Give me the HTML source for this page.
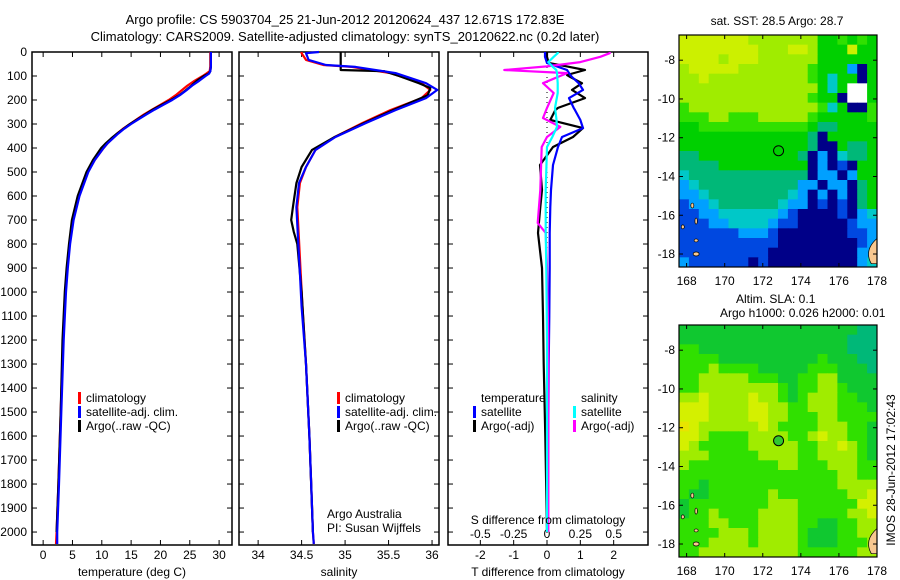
<!DOCTYPE html>
<html><head><meta charset="utf-8"><style>
body{margin:0;background:#fff}
svg{display:block;font-family:"Liberation Sans",sans-serif}
</style></head><body>
<svg id="c" width="900" height="580" viewBox="0 0 900 580">
<text x="345" y="24" font-size="13" text-anchor="middle">Argo profile: CS 5903704_25 21-Jun-2012 20120624_437 12.671S 172.83E</text>
<text x="345" y="41" font-size="13" text-anchor="middle">Climatology: CARS2009. Satellite-adjusted climatology: synTS_20120622.nc (0.2d later)</text>
</svg>
<script>
// ---- data ----
const tDepth=[0,20,40,60,80,90,100,120,140,160,180,200,220,240,260,280,300,320,340,360,380,400,450,500,600,700,800,900,1000,1200,1500,1800,2000,2050];
const tClim=[28.5,28.5,28.5,28.5,28.4,27.8,27.2,25.8,24.6,23.6,22.6,21.4,20.0,18.6,17.2,16.0,14.8,13.6,12.6,11.8,11.0,10.3,8.8,7.6,6.1,5.1,4.5,4.1,3.8,3.4,3.0,2.6,2.3,2.2];
const tSat=[28.6,28.6,28.6,28.6,28.5,28.3,27.7,26.6,25.4,24.4,23.3,22.0,20.5,19.0,17.6,16.3,15.0,13.8,12.8,11.9,11.0,10.3,8.8,7.7,6.2,5.2,4.6,4.2,3.9,3.5,3.1,2.7,2.4,2.4];
const tArgo=[28.6,28.6,28.6,28.6,28.5,28.2,27.4,26.2,25.3,24.3,23.2,21.8,20.2,18.7,17.4,16.1,14.8,13.7,12.6,11.6,10.7,9.9,8.5,7.4,5.9,4.9,4.4,4.0,3.7,3.3,3.0,2.6,2.3];
const sDepth=[0,5,33,54,62,88,130,158,192,242,296,354,408,479,546,646,783,921,1062,1300,1600,1800,2000,2050];
const sClim=[34.5,34.5,34.55,34.75,35.08,35.52,35.88,35.98,35.88,35.52,35.2,34.88,34.66,34.55,34.48,34.45,34.47,34.49,34.51,34.55,34.59,34.61,34.63,34.64];
const sSat=[34.7,34.55,34.58,34.78,35.12,35.58,35.93,36.06,35.93,35.58,35.24,34.89,34.66,34.55,34.47,34.44,34.46,34.48,34.5,34.55,34.59,34.61,34.63,34.64];
const sArgoDepth=[0,75,80,100,130,150,180,242,296,354,408,479,546,646,700,750,800,1000,1300,1600,2000];
const sArgo=[34.95,34.95,35.45,35.62,35.85,35.98,35.95,35.55,35.22,34.88,34.62,34.5,34.44,34.4,34.38,34.41,34.45,34.5,34.55,34.59,34.63];
const dDepthA=[0,20,46,60,75,96,104,130,158,192,233,242,283,317,354,396,471,575,646,754,900,1100,1300,1600,2000];
const dTSat=[-0.06,-0.06,0,0.3,0.6,0.7,0.75,0.95,1.08,0.66,0.8,0.84,1.0,1.08,0.45,0.33,0.18,0.12,0.1,0.08,0.08,0.07,0.05,0.04,0.03];
const dTArgo=[0,0,0.05,0.6,1.14,0.6,0.7,1.05,0.75,1.14,0.33,0.25,0.1,1.08,0.78,0.18,-0.21,-0.15,-0.2,-0.27,-0.15,-0.12,-0.1,-0.05,0];
const dDepthS=[0,5,20,42,60,75,88,130,171,233,275,312,354,396,575,712,754,900,1200,1600,2000];
const dSSat=[0.08,0.08,0.05,0.01,0.04,0.07,0.075,0.08,0.08,0.06,0.07,0.075,0.04,0,-0.01,-0.01,-0.01,-0.005,0,0,0];
const dSArgo=[0.47,0.47,0.4,0.25,0.0,-0.32,0.15,-0.03,0.05,0.0,-0.03,0.1,0.0,-0.04,-0.05,-0.07,-0.01,0,0.01,0.01,0.01];
const depthTicks=[0,100,200,300,400,500,600,700,800,900,1000,1100,1200,1300,1400,1500,1600,1700,1800,1900,2000];
const tTicks=[0,5,10,15,20,25,30];
const salTicks=[34,34.5,35,35.5,36];
const salTickLabels=["34","34.5","35","35.5","36"];
const dtTicks=[-2,-1,0,1,2];
const dsTicks=[-0.5,-0.25,0,0.25,0.5];
const dsTickLabels=["-0.5","-0.25","0","0.25","0.5"];
const lonTicks=[168,170,172,174,176,178];
const latTicks=[-8,-10,-12,-14,-16,-18];
const argoLon=172.83, argoLat=-12.671;
const sstGrid=["88888887777777556565","88888888777887555855","88887888777777555555","78888877777776555205","77877777777776535505","77777777777777535ww5","77777777777776550ww5","67777777777777635006","66677666777776555556","55666666666665445555","55555555555554055555","55555555555554005445","44555555555540203445","44445555555550201055","34444444444440220255","23444444444422022045","22344444444320202045","12234444443220101045","11223333332100001023","11122333321100000122","11111122210000000112","11111111110000000012","11111111100000000022","21111110100000000023"];
const slaGrid=["11111111111111111100","11111111111111111000","22111111111111111000","22221111111111211100","22232222111112221110","22333332221122331111","22333333332122332111","33433334332123332211","44433334433223332221","44433334433222332222","54333333432222333221","44322223333223433221","43222223333322334321","33322222333322333321","32222222223322233322","22222222222222223322","22122222222222223333","21122222232222222334","12222222233322222244","12232222333322222334","22233222333322112233","22223332333321112233","22233332333321112223","22333333333322222233"];
// ---- drawing ----
const NS="http://www.w3.org/2000/svg";const svg=document.getElementById('c');
function el(t,a,p){const e=document.createElementNS(NS,t);for(const k in a)e.setAttribute(k,a[k]);(p||svg).appendChild(e);return e;}
function txt(x,y,s,a,p){const e=el('text',Object.assign({x:x,y:y,'font-size':12},a||{}),p);e.textContent=s;return e;}
const Y0=52,Y1=545,DMAX=2054;
const yS=d=>Y0+d*(Y1-Y0)/DMAX;
function mkX(x0,x1,a,b){return v=>x0+(v-a)*(x1-x0)/(b-a);}
const P=[{x0:32,x1:232},{x0:239,x1:439},{x0:448,x1:648}];
const xT=mkX(32,232,-1.9,32.2),xS=mkX(239,439,33.78,36.08),xDT=mkX(448,648,-2.97,3.03),xDS=mkX(448,648,-0.7425,0.7575);
const pnames=['temperature-panel','salinity-panel','difference-panel'];
P.forEach((p,i)=>{
  const g=el('g',{});
  
  
  const r=el('rect',{x:p.x0,y:Y0,width:p.x1-p.x0,height:Y1-Y0,fill:'none',stroke:'#000','stroke-width':1.5},g);
  
  
  depthTicks.forEach(d=>{const y=yS(d);
    el('line',{x1:p.x0,x2:p.x0+5,y1:y,y2:y,stroke:'#000'},g);
    el('line',{x1:p.x1-5,x2:p.x1,y1:y,y2:y,stroke:'#000'},g);});
  p.g=g;
});
depthTicks.forEach(d=>{const t=txt(27,yS(d)+4,String(d),{'text-anchor':'end'});
  
  });
function xticks(vals,labels,sc,y,g,top,bottom){vals.forEach((v,i)=>{const x=sc(v);
  if(top)el('line',{x1:x,x2:x,y1:Y0,y2:Y0+5,stroke:'#000'},g);
  if(bottom)el('line',{x1:x,x2:x,y1:Y1-5,y2:Y1,stroke:'#000'},g);
  const t=txt(x,y,labels[i],{'text-anchor':'middle'},g);
  
  });}
xticks(tTicks,tTicks.map(String),xT,559,P[0].g,true,true);
xticks(salTicks,salTickLabels,xS,559,P[1].g,true,true);
xticks(dtTicks,dtTicks.map(String),xDT,559,P[2].g,true,true);
xticks(dsTicks,dsTickLabels,xDS,538,P[2].g,false,false);
[['temperature (deg C)',132,'x-axis-title-temperature'],['salinity',339,'x-axis-title-salinity'],['T difference from climatology',548,'x-axis-title-t-diff']].forEach(a=>{const t=txt(a[1],576,a[0],{'text-anchor':'middle'});});
{const t=txt(548,524,'S difference from climatology',{'text-anchor':'middle'});}
el('line',{x1:xDT(0),x2:xDT(0),y1:Y0,y2:Y1,stroke:'#000','stroke-dasharray':'1,4'},P[2].g);
function line(xs,ds,sc,col,name,g){let d='';xs.forEach((v,i)=>{d+=(i?'L':'M')+sc(v).toFixed(1)+' '+yS(ds[i]).toFixed(1);});
  const e=el('path',{d:d,fill:'none',stroke:col,'stroke-width':2.2,'stroke-linejoin':'round'},g);
  
  }
line(tClim,tDepth,xT,'#f00','temp-climatology-line',P[0].g);
line(tArgo,tDepth,xT,'#000','temp-argo-line',P[0].g);
line(tSat,tDepth,xT,'#00f','temp-satellite-line',P[0].g);
line(sClim,sDepth,xS,'#f00','sal-climatology-line',P[1].g);
line(sArgo,sArgoDepth,xS,'#000','sal-argo-line',P[1].g);
line(sSat,sDepth,xS,'#00f','sal-satellite-line',P[1].g);
line(dTArgo,dDepthA,xDT,'#000','tdiff-argo-line',P[2].g);
line(dTSat,dDepthA,xDT,'#00f','tdiff-satellite-line',P[2].g);
line(dSArgo,dDepthS,xDS,'#f0f','sdiff-argo-line',P[2].g);
line(dSSat,dDepthS,xDS,'#0ff','sdiff-satellite-line',P[2].g);
function leg(x,y,col,label){const g=el('g',{});
  
  
  if(col)el('rect',{x:x,y:y-10,width:3,height:12,fill:col},g);
  txt(x+8,y,label,{},g);}
leg(78,402,'#f00','climatology');leg(78,416,'#00f','satellite-adj. clim.');leg(78,430,'#000','Argo(..raw -QC)');
leg(337,402,'#f00','climatology');leg(337,416,'#00f','satellite-adj. clim.');leg(337,430,'#000','Argo(..raw -QC)');
leg(473,402,null,'temperature');leg(473,416,'#00f','satellite');leg(473,430,'#000','Argo(-adj)');
leg(573,402,null,'salinity');leg(573,416,'#0ff','satellite');leg(573,430,'#f0f','Argo(-adj)');
{const t=txt(327,518,'Argo Australia');
 const t2=txt(327,532,'PI: Susan Wijffels');}
const sstCols={'0':'#000088','1':'#0048e0','2':'#00a0ff','3':'#00c8c8','4':'#00b878','5':'#00d000','6':'#30e000','7':'#a0ec00','8':'#ccf000','w':'#ffffff'};
const slaCols={'0':'#00b878','1':'#10c830','2':'#30e000','3':'#a0ec00','4':'#d4f000','5':'#e8e400'};
function map(top,grid,cols,name,fillCircle){
  const x0=679,x1=877,y1=top+232,lonA=167.6,lonB=178,latA=-6.7,latB=-18.67;
  const mx=v=>x0+(v-lonA)*(x1-x0)/(lonB-lonA),my=v=>top+(v-latA)*(y1-top)/(latB-latA);
  const g=el('g',{});
  
  
  const nr=grid.length,nc=grid[0].length,cw=(x1-x0)/nc,ch=(y1-top)/nr;
  grid.forEach((row,r)=>{for(let c=0;c<nc;c++){el('rect',{x:(x0+c*cw).toFixed(2),y:(top+r*ch).toFixed(2),width:(cw+0.5).toFixed(2),height:(ch+0.5).toFixed(2),fill:cols[row[c]]},g);}});
  [[168.3,-15.5,1.5,2.5],[168.5,-16.3,1.2,3],[167.8,-16.6,1.5,2],[168.5,-17.3,2,1.5],[168.5,-18.0,3,2]].forEach(a=>el('ellipse',{cx:mx(a[0]),cy:my(a[1]),rx:a[2],ry:a[3],fill:'#f8c890',stroke:'#000','stroke-width':0.7},g));
  el('path',{d:`M${x1} ${my(-17.2)} Q${mx(177.3)} ${my(-17.8)} ${mx(177.7)} ${my(-18.5)} L${x1} ${my(-18.5)} Z`,fill:'#f8c890',stroke:'#000','stroke-width':0.7},g);
  el('rect',{x:x0,y:top,width:x1-x0,height:y1-top,fill:'none',stroke:'#000','stroke-width':1.2},g);
  lonTicks.forEach(v=>{const x=mx(v);el('line',{x1:x,x2:x,y1:top,y2:top+4,stroke:'#000'},g);el('line',{x1:x,x2:x,y1:y1-4,y2:y1,stroke:'#000'},g);
    const t=txt(x,y1+18,String(v),{'text-anchor':'middle'},g);});
  latTicks.forEach(v=>{const y=my(v);el('line',{x1:x0,x2:x0+4,y1:y,y2:y,stroke:'#000'},g);el('line',{x1:x1-4,x2:x1,y1:y,y2:y,stroke:'#000'},g);
    const t=txt(x0-4,y+4,String(v),{'text-anchor':'end'},g);});
  const c=el('circle',{cx:mx(argoLon),cy:my(argoLat),r:5,fill:fillCircle,stroke:'#000','stroke-width':1},g);
  
  
}
map(35,sstGrid,sstCols,'sst-map','none');
map(325,slaGrid,slaCols,'sla-map','#30c830');
{const t=txt(777,25,'sat. SST: 28.5 Argo: 28.7',{'text-anchor':'middle'});
 const t2=txt(736,303,'Altim. SLA: 0.1');
 const t3=txt(720,317,'Argo h1000: 0.026 h2000: 0.01');
 const t4=txt(0,0,'IMOS 28-Jun-2012 17:02:43',{transform:'translate(895,470) rotate(-90)','text-anchor':'middle'});}
</script>
</body></html>
